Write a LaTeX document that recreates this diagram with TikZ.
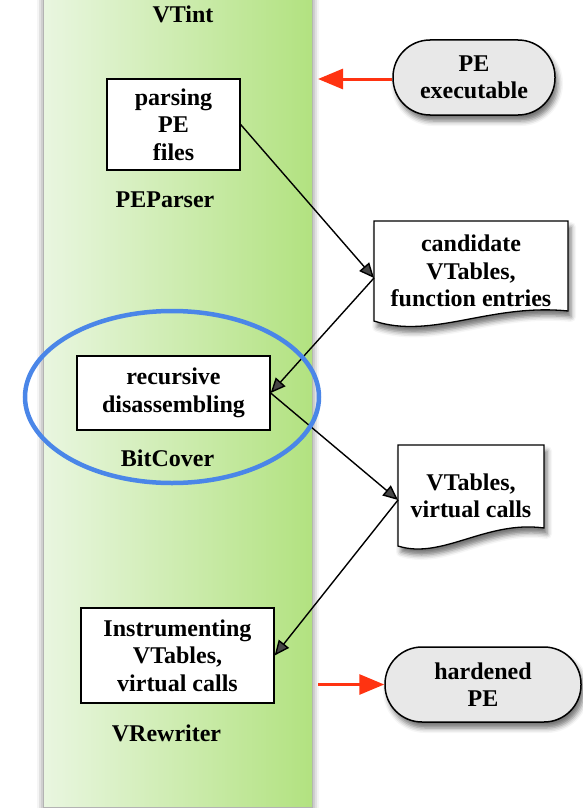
\documentclass[tikz,border=0pt]{standalone}
\usepackage{fontspec}
\setmainfont{Liberation Serif}
\usetikzlibrary{shadows.blur,arrows.meta}
\definecolor{bandL}{RGB}{233,246,224}
\definecolor{bandR}{RGB}{178,226,128}
\definecolor{pillgray}{RGB}{232,232,232}
\definecolor{ringblue}{RGB}{74,134,232}
\definecolor{flowred}{RGB}{255,51,17}
\begin{document}
\begin{tikzpicture}[x=1pt,y=-1pt,
  every node/.style={font=\fontsize{24}{27.5}\selectfont\bfseries, align=center, inner sep=0pt},
  stepbox/.style={draw, line width=1.3pt, fill=white},
  pill/.style={draw, line width=1.5pt, fill=pillgray, rounded corners=37pt,
    blur shadow={shadow xshift=3pt, shadow yshift=-6pt, shadow blur radius=5pt, shadow opacity=55}},
  docshape/.style={draw, line width=1.3pt, fill=white,
    blur shadow={shadow xshift=3pt, shadow yshift=-6pt, shadow blur radius=5pt, shadow opacity=55}},
  flow/.style={line width=1.4pt, -{Triangle[length=15pt,width=13pt]}},
  feed/.style={draw=flowred, line width=3pt, -{Triangle[length=25pt,width=20pt]}}
]
\useasboundingbox (0,0) rectangle (583,808);

% tool column
\shade[left color=bandL, right color=bandR,
  blur shadow={shadow xshift=0pt, shadow yshift=-2pt, shadow blur radius=7pt, shadow opacity=60}]
  (44,-20) rectangle (312,806);
\node (title) at (183,14) {VTint};

% components
\node[stepbox, minimum width=133, minimum height=91] (parse) at (173.5,124.5) {parsing\\PE\\files};
\node (peparser) at (165,200) {PEParser};
\node[stepbox, minimum width=193, minimum height=74] (rec) at (173.5,393) {recursive\\disassembling};
\node (bitcover) at (167.5,458) {BitCover};
\node[stepbox, minimum width=193, minimum height=95] (instr) at (177.5,655.5) {Instrumenting\\VTables,\\virtual calls};
\node (vrewriter) at (166.5,733) {VRewriter};

% input and output
\node[pill, minimum width=162, minimum height=75] (pe) at (474,77.5) {PE\\executable};
\node[pill, minimum width=196, minimum height=75] (hard) at (483,684.5) {hardened\\PE};

% intermediate documents
\draw[docshape] (374,221) -- (568,221) -- (568,311)
  .. controls (490,303) and (432,340) .. (374,321) -- cycle;
\node (cand) at (471,271) {candidate\\VTables,\\function entries};
\draw[docshape] (398,445) -- (544,445) -- (544,528)
  .. controls (486,520) and (442,560) .. (398,546) -- cycle;
\node (vtab) at (471,496) {VTables,\\virtual calls};

% connectors
\coordinate (candIn) at (374,278);
\coordinate (vtIn) at (398,500);
\coordinate (feedIn) at (318,79);
\coordinate (feedOut) at (318,684.5);
\draw[flow] (parse.east) -- (candIn);
\draw[flow] (candIn) -- (rec.east);
\draw[flow] (rec.east) -- (vtIn);
\draw[flow] (vtIn) -- (instr.east);
\draw[feed] (pe.west |- feedIn) -- (feedIn);
\draw[feed] (feedOut) -- (hard.west);

% highlight ring
\draw[ringblue, line width=4.5pt] (172,397) ellipse [x radius=147, y radius=86];
\end{tikzpicture}
\end{document}
